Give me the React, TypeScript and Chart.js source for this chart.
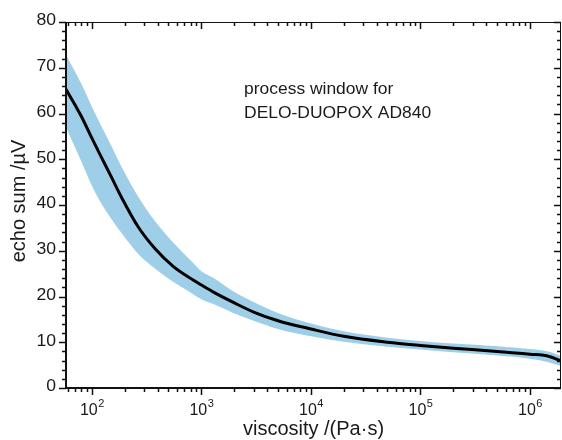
import React, { useEffect, useRef } from "react";
import { Chart, registerables } from "chart.js";

Chart.register(...registerables);

// viscosity values (Pa·s)
const viscosity = [58, 70, 80, 100, 120, 150, 187, 265, 376, 552, 841, 1000, 1300, 2000, 3000, 5000, 10000, 20000, 50000, 100000, 200000, 500000, 1000000, 1500000, 1920000];
// echo sum mean curve (µV)
const echoMean = [65.3, 61.9, 59.4, 54.6, 50.8, 46.2, 41.6, 35.2, 30.5, 26.6, 23.6, 22.5, 20.9, 18.6, 16.6, 14.7, 12.9, 11.3, 10.0, 9.3, 8.7, 8.0, 7.4, 6.9, 5.9];
// process window upper / lower limits (µV)
const echoUpper = [72.8, 69.2, 66.5, 61.5, 57.6, 53, 48.3, 41.8, 36.5, 31.8, 27.3, 25.5, 24.0, 21.0, 18.8, 16.4, 14.1, 12.4, 11.0, 10.3, 9.7, 9.1, 8.5, 7.9, 7.0];
const echoLower = [57, 52.6, 49.5, 44.2, 40.6, 37, 33.8, 29.3, 26.1, 23.2, 20.5, 19.4, 18.3, 16.3, 14.7, 12.9, 11.3, 10.1, 9.0, 8.4, 7.8, 7.1, 6.4, 5.6, 4.8];

const yTickLabels = ["0", "10", "20", "30", "40", "50", "60", "70", "80"];
const yMajorValues = [0, 10, 20, 30, 40, 50, 60, 70, 80];
const yMinorStep = 2;
const xDecadeExponents = [2, 3, 4, 5, 6];
const xMin = 58;
const xMax = 1920000;

const xTitle = "viscosity /(Pa·s)";
const yTitle = "echo sum /µV";
const noteLines = ["process window for", "DELO-DUOPOX AD840"];

const FONT_FAMILY = '"Liberation Sans", Arial, Helvetica, sans-serif';
const TEXT_COLOR = "#1a1a1a";

function scaledText(ctx: CanvasRenderingContext2D, text: string, x: number, y: number, sx: number, align: CanvasTextAlign) {
  ctx.save();
  ctx.translate(x, y);
  ctx.scale(sx, 1);
  ctx.textAlign = align;
  ctx.fillText(text, 0, 0);
  ctx.restore();
}

const axesPlugin = {
  id: "originAxes",
  afterDraw(chart: any) {
    const ctx: CanvasRenderingContext2D = chart.ctx;
    const { left, right, top, bottom } = chart.chartArea;
    const xs = chart.scales.x;
    const ys = chart.scales.y;
    ctx.save();
    ctx.strokeStyle = "#111";
    ctx.fillStyle = TEXT_COLOR;

    // frame top/right (thin)
    ctx.lineWidth = 1;
    ctx.beginPath();
    ctx.moveTo(left, top + 0.5);
    ctx.lineTo(right, top + 0.5);
    ctx.moveTo(right - 0.5, top);
    ctx.lineTo(right - 0.5, bottom);
    ctx.stroke();

    // y ticks
    const yMaxV = yMajorValues[yMajorValues.length - 1];
    ctx.lineWidth = 1.5;
    ctx.beginPath();
    for (let v = 0; v <= yMaxV; v += yMinorStep) {
      const py = Math.round(ys.getPixelForValue(v)) + 0.5;
      const major = v % 10 === 0;
      const len = major ? 7 : 4;
      ctx.moveTo(left - len, py);
      ctx.lineTo(left, py);
      ctx.moveTo(right, py);
      ctx.lineTo(right - len, py);
    }
    ctx.stroke();

    // x ticks
    ctx.beginPath();
    for (let d = 1; d <= 6; d++) {
      for (let m = 1; m <= 9; m++) {
        const v = m * Math.pow(10, d);
        if (v < xMin || v > xMax) continue;
        const px = Math.round(xs.getPixelForValue(v)) + 0.5;
        const major = m === 1;
        const len = major ? 7 : 4;
        ctx.moveTo(px, bottom);
        ctx.lineTo(px, bottom + len);
        ctx.moveTo(px, top);
        ctx.lineTo(px, top + len);
      }
    }
    ctx.stroke();

    // left/bottom axis lines (thick)
    ctx.lineWidth = 2;
    ctx.beginPath();
    ctx.moveTo(left, top);
    ctx.lineTo(left, bottom + 1);
    ctx.moveTo(left - 1, bottom);
    ctx.lineTo(right, bottom);
    ctx.stroke();

    // y tick labels
    ctx.font = `16px ${FONT_FAMILY}`;
    ctx.textBaseline = "middle";
    yMajorValues.forEach((v, i) => {
      const py = ys.getPixelForValue(v);
      scaledText(ctx, yTickLabels[i], left - 10, py - 1, 1.1, "right");
    });

    // x tick labels 10^n
    ctx.textBaseline = "alphabetic";
    xDecadeExponents.forEach((e) => {
      const px = xs.getPixelForValue(Math.pow(10, e));
      ctx.font = `16px ${FONT_FAMILY}`;
      const wBase = ctx.measureText("10").width;
      ctx.font = `11px ${FONT_FAMILY}`;
      const wExp = ctx.measureText(String(e)).width;
      const start = px - (wBase + wExp) / 2;
      ctx.font = `16px ${FONT_FAMILY}`;
      ctx.textAlign = "left";
      ctx.fillText("10", start, bottom + 27);
      ctx.font = `11px ${FONT_FAMILY}`;
      ctx.fillText(String(e), start + wBase + 0.5, bottom + 19);
    });

    // axis titles
    ctx.font = `20px ${FONT_FAMILY}`;
    ctx.textAlign = "center";
    ctx.textBaseline = "alphabetic";
    ctx.fillText(xTitle, (left + right) / 2, bottom + 47);

    ctx.save();
    ctx.translate(25, (top + bottom) / 2 - 4);
    ctx.rotate(-Math.PI / 2);
    ctx.textAlign = "center";
    ctx.fillText(yTitle, 0, 0);
    ctx.restore();

    // annotation
    ctx.font = `16px ${FONT_FAMILY}`;
    ctx.textBaseline = "alphabetic";
    const noteX = xs.getPixelForValue(2450);
    scaledText(ctx, noteLines[0], noteX, ys.getPixelForValue(64.2), 1.09, "left");
    scaledText(ctx, noteLines[1], noteX, ys.getPixelForValue(59), 1.09, "left");

    ctx.restore();
  },
};

export default function App() {
  const canvasRef = useRef<HTMLCanvasElement | null>(null);

  useEffect(() => {
    const canvas = canvasRef.current;
    if (!canvas) return;
    const pts = (arr: number[]) => viscosity.map((x, i) => ({ x, y: arr[i] }));
    const chart = new Chart(canvas, {
      type: "line",
      data: {
        datasets: [
          {
            label: "mean",
            data: pts(echoMean),
            borderWidth: 3,
            borderColor: "#000",
            pointRadius: 0,
            fill: false,
            cubicInterpolationMode: "monotone",
            order: 0,
          },
          {
            label: "upper",
            data: pts(echoUpper),
            borderWidth: 0,
            borderColor: "rgba(0,0,0,0)",
            pointRadius: 0,
            backgroundColor: "#9fcfe8",
            fill: "+1",
            cubicInterpolationMode: "monotone",
            order: 1,
          },
          {
            label: "lower",
            data: pts(echoLower),
            borderWidth: 0,
            borderColor: "rgba(0,0,0,0)",
            pointRadius: 0,
            fill: false,
            cubicInterpolationMode: "monotone",
            order: 2,
          },
        ],
      },
      options: {
        animation: false,
        responsive: false,
        maintainAspectRatio: false,
        layout: { padding: { left: 66, right: 1, top: 22, bottom: 52 } },
        plugins: { legend: { display: false }, tooltip: { enabled: false } },
        scales: {
          x: { type: "logarithmic", min: xMin, max: xMax, display: false },
          y: { type: "linear", min: 0, max: 80, display: false },
        },
      },
      plugins: [axesPlugin],
    } as any);
    return () => chart.destroy();
  }, []);

  return (
    <div style={{ position: "absolute", left: 0, top: 0, width: 562, height: 440, background: "#fff" }}>
      <canvas ref={canvasRef} width={562} height={440} style={{ display: "block" }} />
    </div>
  );
}
